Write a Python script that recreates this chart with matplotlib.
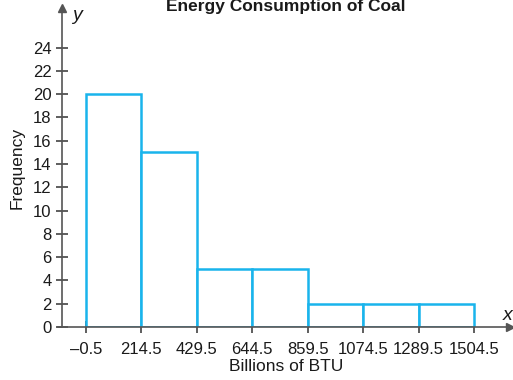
import matplotlib
matplotlib.use("Agg")
import matplotlib.pyplot as plt

# class boundaries and frequencies
edges = [-0.5, 214.5, 429.5, 644.5, 859.5, 1074.5, 1289.5, 1504.5]
freq = [20, 15, 5, 5, 2, 2, 2]
yticks = list(range(0, 25, 2))

plt.rcParams['font.family'] = ['Liberation Sans', 'DejaVu Sans']

W, H = 513, 380
fig = plt.figure(figsize=(W / 100, H / 100), dpi=100)
# axes placed in pixel coords (left/right/bottom/top)
x0, x1, y0, y1 = 62, 510, 327, 8
ax = fig.add_axes([x0 / W, (H - y0) / H, (x1 - x0) / W, (y0 - y1) / H])

bar_col = '#19b4ec'
axis_col = '#555555'
widths = [edges[i + 1] - edges[i] for i in range(len(freq))]
ax.bar(edges[:-1], freq, width=widths, align='edge', facecolor='white',
       edgecolor=bar_col, linewidth=1.8, zorder=2)

ax.set_xlim(-93.6, 1644)
ax.set_ylim(0, 27.4)
ax.set_xticks(edges)
ax.set_xticklabels(['\u20130.5'] + [f'{e:.1f}' for e in edges[1:]])
ax.set_yticks(yticks)

for s in ['top', 'right']:
    ax.spines[s].set_visible(False)
for s in ['left', 'bottom']:
    ax.spines[s].set_color(axis_col)
    ax.spines[s].set_linewidth(1.2)
    ax.spines[s].set_zorder(3)
ax.spines['bottom'].set_bounds(-110, 1644)

ax.tick_params(axis='both', direction='inout', length=9, width=1.1,
               color='#333333', labelsize=12, labelcolor='#1a1a1a')
ax.tick_params(axis='x', pad=6)
ax.tick_params(axis='y', pad=3)

# arrowheads
ax.plot([1644], [0], marker='>', color=axis_col, markersize=6, clip_on=False, zorder=4)
ax.plot([-93.6], [27.4], marker='^', color=axis_col, markersize=6, clip_on=False, zorder=4)

ax.set_ylabel('Frequency', fontsize=12.5, color='#1a1a1a', labelpad=6)
ax.set_xlabel('Billions of BTU', fontsize=12.5, color='#1a1a1a', labelpad=2)

fig.text(77 / W, 1 - 15 / H, 'y', fontsize=14, style='italic', color='#1a1a1a',
         ha='center', va='center')
fig.text(508 / W, 1 - 315 / H, 'x', fontsize=14, style='italic', color='#1a1a1a',
         ha='center', va='center')
fig.text(286 / W, 1 - 11 / H, 'Energy Consumption of Coal', fontsize=12.5,
         fontweight='bold', family=['Liberation Sans Narrow', 'Liberation Sans'],
         color='#1a1a1a', ha='center', va='baseline')

fig.savefig('out.png', dpi=100)
